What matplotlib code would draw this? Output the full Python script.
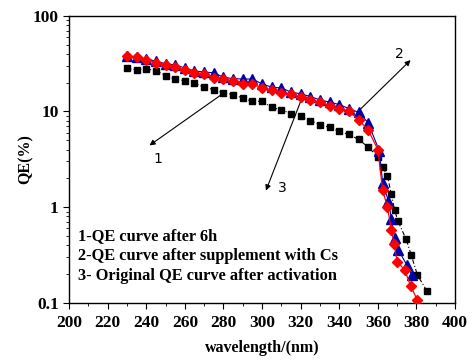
import matplotlib
matplotlib.use("Agg")
import matplotlib.pyplot as plt
from matplotlib.ticker import LogLocator, NullFormatter, MultipleLocator, FixedFormatter, FixedLocator

plt.rcParams['font.family'] = ['Liberation Serif', 'DejaVu Serif']

# Curve 1: QE after 6h (black squares)
wl_1 = [230, 235, 240, 245, 250, 255, 260, 265, 270, 275, 280, 285, 290, 295, 300,
        305, 310, 315, 320, 325, 330, 335, 340, 345, 350, 355,
        360, 362.5, 365, 367, 368.7, 370.5, 374.7, 377.3, 380.5, 385.4]
qe_1 = [28.2, 27.2, 27.8, 26.7, 23.7, 21.6, 21.0, 19.7, 17.9, 16.9, 15.6, 15.0, 13.8, 12.7, 12.8,
        11.0, 10.4, 9.5, 8.9, 8.0, 7.3, 6.8, 6.2, 5.75, 5.1, 4.25,
        3.34, 2.63, 2.1, 1.36, 0.93, 0.71, 0.46, 0.316, 0.196, 0.133]

# Curve 2: QE after supplement with Cs (blue triangles)
wl_2 = [230, 235, 240, 245, 250, 255, 260, 265, 270, 275, 280, 285, 290, 295, 300,
        305, 310, 315, 320, 325, 330, 335, 340, 345, 350, 355,
        360.7, 362.5, 365.5, 367, 368.7, 370.5, 375, 377.6]
qe_2 = [38.0, 37.0, 35.5, 33.5, 31.5, 30.6, 28.5, 26.5, 25.8, 25.3, 22.8, 22.0, 21.8, 21.8, 19.4,
        17.9, 17.6, 15.9, 15.3, 14.3, 13.2, 12.5, 11.8, 10.7, 9.8, 7.6,
        3.9, 1.8, 1.16, 0.76, 0.48, 0.36, 0.25, 0.196]

# Curve 3: original QE after activation (red diamonds)
wl_3 = [230, 235, 240, 245, 250, 255, 260, 265, 270, 275, 280, 285, 290, 295, 300,
        305, 310, 315, 320, 325, 330, 335, 340, 345, 350, 355,
        360, 362.5, 365, 367, 368.5, 370, 374, 377, 380.5]
qe_3 = [37.7, 36.8, 34.8, 32.2, 30.6, 28.9, 27.3, 25.3, 24.7, 22.4, 21.6, 21.0, 19.4, 19.4, 17.6,
        16.6, 15.6, 15.3, 14.1, 13.2, 12.5, 11.5, 10.7, 10.1, 8.2, 6.4,
        4.0, 1.5, 1.0, 0.58, 0.41, 0.27, 0.22, 0.15, 0.107]

legend_lines = ["1-QE curve after 6h",
                "2-QE curve after supplement with Cs",
                "3- Original QE curve after activation"]

x_ticks = [200, 220, 240, 260, 280, 300, 320, 340, 360, 380, 400]
y_ticks = [0.1, 1, 10, 100]
y_ticklabels = ["0.1", "1", "10", "100"]

fig = plt.figure(figsize=(4.73, 3.61), dpi=100)
ax = fig.add_axes([0.146, 0.161, 0.816, 0.7955])

ax.plot(wl_1, qe_1, color='black', linestyle=(0, (4, 2, 1, 2)), linewidth=0.8,
        marker='s', markersize=5, markerfacecolor='black', markeredgecolor='black', zorder=2)
ax.plot(wl_2, qe_2, color='#0000aa', linestyle='-', linewidth=0.8,
        marker='^', markersize=6.5, markerfacecolor='#0000aa', markeredgecolor='#0000aa', zorder=3)
ax.plot(wl_3, qe_3, color='red', linestyle='-', linewidth=0.9,
        marker='D', markersize=5.5, markerfacecolor='red', markeredgecolor='red', zorder=4)

ax.set_yscale('log')
ax.set_xlim(200, 400)
ax.set_ylim(0.1, 100)

ax.set_xticks(x_ticks)
ax.xaxis.set_minor_locator(MultipleLocator(10))
ax.yaxis.set_major_locator(FixedLocator(y_ticks))
ax.yaxis.set_major_formatter(FixedFormatter(y_ticklabels))
ax.yaxis.set_minor_locator(LogLocator(base=10, subs=range(2, 10)))
ax.yaxis.set_minor_formatter(NullFormatter())

ax.tick_params(axis='both', which='major', direction='out', length=4, width=0.8,
               labelsize=12.5, top=False, right=False)
ax.tick_params(axis='both', which='minor', direction='out', length=2.5, width=0.6,
               top=False, right=False)
for lab in ax.get_xticklabels() + ax.get_yticklabels():
    lab.set_fontweight('bold')
ax.tick_params(axis='x', pad=5)

for s in ax.spines.values():
    s.set_linewidth(1.0)

ax.set_xlabel("wavelength/(nm)", fontsize=11.5, fontweight='bold', labelpad=6)
ax.set_ylabel("QE(%)", fontsize=11.5, fontweight='bold', labelpad=-1)

# Arrows with labels (in data coordinates)
arr = dict(arrowstyle='-|>', color='black', lw=0.8, mutation_scale=8)
ax.annotate("", xy=(240.5, 4.25), xytext=(280, 15.5), arrowprops=arr)
ax.text(246, 3.2, "1", fontsize=10, family='DejaVu Sans', ha='center', va='center')
ax.annotate("", xy=(378, 36), xytext=(350, 10.1), arrowprops=arr)
ax.text(371, 40, "2", fontsize=10, family='DejaVu Sans', ha='center', va='center')
ax.annotate("", xy=(301.5, 1.4), xytext=(320.5, 13.5), arrowprops=arr)
ax.text(310.5, 1.6, "3", fontsize=10, family='DejaVu Sans', ha='center', va='center')

for i, t in enumerate(legend_lines):
    ax.text(0.022, 0.233 - i * 0.07, t, transform=ax.transAxes, fontsize=11.8,
            fontweight='bold', ha='left', va='center')

fig.savefig("out.png", dpi=100)
